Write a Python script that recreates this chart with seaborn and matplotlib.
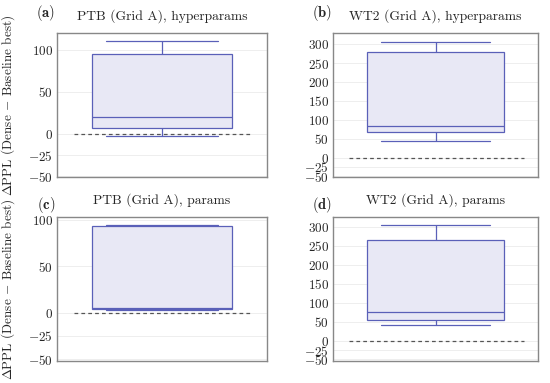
import numpy as np
import pandas as pd
import matplotlib
matplotlib.use("Agg")
import matplotlib.pyplot as plt
import seaborn as sns

# five-number summaries per panel: lower whisker, Q1, median, Q3, upper whisker
ptb_hyper = [-2.5, 7.5, 20, 94.5, 110]
wt2_hyper = [44, 67.5, 83.5, 279, 307]
ptb_params = [3.2, 4.0, 4.6, 93, 94]
wt2_params = [40.5, 55, 76, 266, 305]

panel_tags = ["(a)", "(b)", "(c)", "(d)"]
panel_titles = ["PTB (Grid A), hyperparams", "WT2 (Grid A), hyperparams",
                "PTB (Grid A), params", "WT2 (Grid A), params"]
ptb_ticks = [-50, -25, 0, 50, 100]
wt2_ticks = [-50, -25, 0, 50, 100, 150, 200, 250, 300]
ylabel = r"$\Delta$PPL (Dense $-$ Baseline best)"

sns.set_style("white")
plt.rcParams["font.family"] = "serif"
plt.rcParams["font.serif"] = ["cmr10", "DejaVu Serif"]
plt.rcParams["mathtext.fontset"] = "cm"
plt.rcParams["axes.formatter.use_mathtext"] = True
plt.rcParams["axes.unicode_minus"] = True

fill = "#e8e8f5"
edge = "#5a60b8"

fig = plt.figure(figsize=(5.5, 3.83), dpi=100)
W, H = 550, 383
boxes = [(57, 33, 267, 177), (333, 33, 538, 177),
         (57, 217, 267, 361), (333, 217, 538, 361)]
datas = [ptb_hyper, wt2_hyper, ptb_params, wt2_params]
ylims = [(-51, 120), (-51.5, 330), (-52, 103), (-54, 326)]
ticks = [ptb_ticks, wt2_ticks, ptb_ticks, wt2_ticks]
tag_y = [1.14, 1.14, 1.085, 1.085]

for i, (l, t, r, b) in enumerate(boxes):
    ax = fig.add_axes([l / W, 1 - b / H, (r - l) / W, (b - t) / H])
    df = pd.DataFrame({"g": ["x"] * 5, "v": datas[i]})
    sns.boxplot(data=df, x="g", y="v", ax=ax, whis=np.inf, width=0.67,
                color=fill, linecolor=edge, linewidth=0.9,
                boxprops=dict(facecolor=fill, edgecolor=edge))
    # widen the whisker caps
    lo, hi = min(datas[i]), max(datas[i])
    for ln in ax.lines:
        y = np.asarray(ln.get_ydata(), dtype=float)
        x = np.asarray(ln.get_xdata(), dtype=float)
        if len(y) == 2 and y[0] == y[1] and y[0] in (lo, hi) and x[0] != x[1]:
            ln.set_xdata([-0.265, 0.265])
    ax.axhline(0, xmin=0.08, xmax=0.93, color="#555555", ls=(0, (3, 2.5)),
               lw=0.9, zorder=1)
    ax.set_xlim(-0.5, 0.5)
    ax.set_ylim(*ylims[i])
    ax.set_yticks(ticks[i])
    ax.yaxis.grid(True, color="#ebebeb", lw=0.6)
    ax.set_axisbelow(True)
    ax.set_xticks([])
    ax.set_xlabel("")
    ax.set_ylabel("")
    ax.tick_params(axis="y", length=0, labelsize=9.5, pad=3)
    for s in ax.spines.values():
        s.set_color("#888888")
        s.set_linewidth(1.0)
    ax.set_title(panel_titles[i], fontsize=9.8, pad=9.5)
    ax.text(-0.053, tag_y[i], r"$\mathbf{" + panel_tags[i] + "}$", transform=ax.transAxes,
            fontsize=10.5, ha="center", va="center")

fig.text(8 / W, 1 - 105 / H, ylabel, rotation=90, ha="center", va="center", fontsize=9.5)
fig.text(8 / W, 1 - 289 / H, ylabel, rotation=90, ha="center", va="center", fontsize=9.5)

fig.savefig("out.png", dpi=100)
